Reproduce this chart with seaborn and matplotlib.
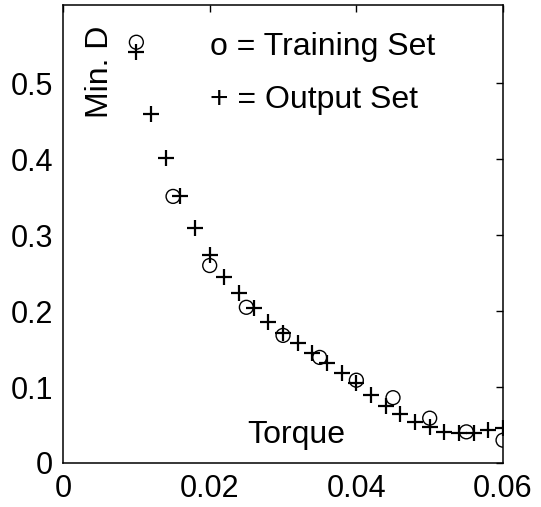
import seaborn as sns
import matplotlib
matplotlib.use("Agg")
import matplotlib.pyplot as plt

# Training set (circles)
train_torque = [0.010, 0.015, 0.020, 0.025, 0.030, 0.035, 0.040, 0.045, 0.050, 0.055, 0.060]
train_mind = [0.554, 0.351, 0.260, 0.205, 0.168, 0.139, 0.109, 0.086, 0.059, 0.041, 0.030]

# Output set (plus signs)
out_torque = [0.010, 0.012, 0.014, 0.016, 0.018, 0.020, 0.022, 0.024, 0.026, 0.028,
              0.030, 0.032, 0.034, 0.036, 0.038, 0.040, 0.042, 0.044, 0.046, 0.048,
              0.050, 0.052, 0.054, 0.056, 0.058, 0.060]
out_mind = [0.541, 0.460, 0.401, 0.351, 0.309, 0.274, 0.245, 0.224, 0.204, 0.186,
            0.171, 0.158, 0.145, 0.132, 0.118, 0.105, 0.089, 0.075, 0.064, 0.054,
            0.047, 0.041, 0.039, 0.039, 0.043, 0.046]

xticks = [0, 0.02, 0.04, 0.06]
xtick_labels = ["0", "0.02", "0.04", "0.06"]
yticks = [0, 0.1, 0.2, 0.3, 0.4, 0.5]
ytick_labels = ["0", "0.1", "0.2", "0.3", "0.4", "0.5"]

sns.set_style("white")
plt.rcParams['font.family'] = ['Liberation Sans', 'DejaVu Sans']
plt.rcParams['text.color'] = 'black'

fig = plt.figure(figsize=(5.41, 5.07), dpi=100)
ax = fig.add_axes([0.1165, 0.0868, 0.8133, 0.9033])

sns.scatterplot(x=train_torque, y=train_mind, ax=ax, marker='o', s=100,
                fc='none', ec='black', linewidth=1.0, zorder=3)
sns.scatterplot(x=out_torque, y=out_mind, ax=ax, marker='+', s=130,
                color='black', linewidth=1.6, zorder=4)

ax.set_xlim(0, 0.06)
ax.set_ylim(0, 0.603)
ax.set_xticks(xticks)
ax.set_xticklabels(xtick_labels)
ax.set_yticks(yticks)
ax.set_yticklabels(ytick_labels)
ax.tick_params(direction='in', length=5, width=1, top=True, right=True,
               labelsize=22, colors='black')
ax.tick_params(axis='x', pad=8)
ax.tick_params(axis='y', pad=7)
for sp in ax.spines.values():
    sp.set_visible(True)
    sp.set_color('black')
    sp.set_linewidth(1.1)

# labels drawn inside the axes, as in the original
ax.text(0.085, 0.855, "Min. D", transform=ax.transAxes, rotation=90,
        ha='center', va='center', fontsize=23, color='black')
ax.text(0.53, 0.062, "Torque", transform=ax.transAxes,
        ha='center', va='center', fontsize=23, color='black')
ax.text(0.334, 0.89, "o = Training Set", transform=ax.transAxes,
        ha='left', va='baseline', fontsize=23, color='black')
ax.text(0.334, 0.776, "+ = Output Set", transform=ax.transAxes,
        ha='left', va='baseline', fontsize=23, color='black')

fig.savefig("out.png", dpi=100)
